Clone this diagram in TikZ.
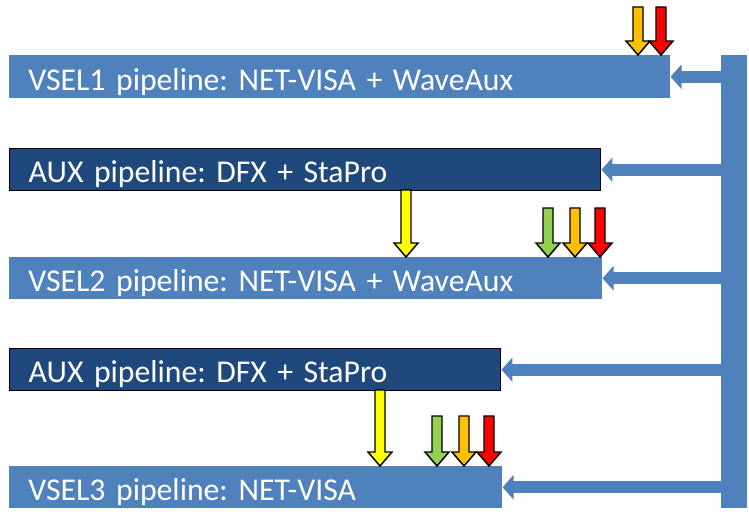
\documentclass[tikz,border=0pt]{standalone}
\usepackage{fontspec}
\setmainfont{Carlito}
\usetikzlibrary{arrows.meta}
\frenchspacing
\definecolor{vblue}{HTML}{4F81BD}
\definecolor{navy}{HTML}{1F497D}
\definecolor{fyellow}{HTML}{FFFF00}
\definecolor{forange}{HTML}{FFC000}
\definecolor{fred}{HTML}{FF0000}
\definecolor{fgreen}{HTML}{92D050}
\tikzset{
  pipebox/.style={anchor=north west, inner xsep=14.25pt, inner ysep=0pt, align=left,
    text=white, font=\fontsize{23.8}{27}\selectfont\frenchspacing, text height=25.5pt, text depth=6pt},
  vselbox/.style={pipebox, fill=vblue},
  auxbox/.style={pipebox, fill=navy, draw=black, line width=1.1pt},
  harrow/.style={draw=vblue, line width=9pt, -{Triangle[width=18pt,length=8.25pt]}},
  pics/darrow/.style 2 args={code={
    \draw[black, line width=1.1pt, fill=#1, line join=miter]
      (0,0) -- (-12,-14) -- (-5,-14) -- (-5,-#2) -- (5,-#2) -- (5,-14) -- (12,-14) -- cycle;
  }}
}
\begin{document}
\begin{tikzpicture}[x=0.75pt,y=-0.75pt]
\useasboundingbox (0,0) rectangle (749,514);
% boxes
\node[vselbox, text width=467.25pt, text height=26.25pt, text depth=6pt] (v1) at (9,55) {VSEL1 pipeline: NET-VISA + WaveAux};
\node[auxbox, text width=414.75pt] (a1) at (9,148) {AUX pipeline: DFX + StaPro};
\node[vselbox, text width=416.25pt] (v2) at (9,257) {VSEL2 pipeline: NET-VISA + WaveAux};
\node[auxbox, text width=339.75pt] (a2) at (9,348) {AUX pipeline: DFX + StaPro};
\node[vselbox, text width=341.25pt] (v3) at (9,466) {VSEL3 pipeline: NET-VISA};
% vertical bar
\node[anchor=north west, fill=vblue, inner sep=0pt, minimum width=19.5pt, minimum height=339.75pt] (bar) at (721,55) {};
% arrows from bar
\foreach \b in {v1,a1,v2,a2,v3}
  \draw[harrow] (bar.west |- \b.east) -- (\b.east);
% feed arrows
\pic at (638,0 |- v1.north) {darrow={forange}{48}};
\pic at (661,0 |- v1.north) {darrow={fred}{48}};
\pic at (406,0 |- v2.north) {darrow={fyellow}{67}};
\pic at (548,0 |- v2.north) {darrow={fgreen}{49}};
\pic at (575,0 |- v2.north) {darrow={forange}{49}};
\pic at (600,0 |- v2.north) {darrow={fred}{49}};
\pic at (380,0 |- v3.north) {darrow={fyellow}{76}};
\pic at (437,0 |- v3.north) {darrow={fgreen}{50}};
\pic at (464,0 |- v3.north) {darrow={forange}{50}};
\pic at (489,0 |- v3.north) {darrow={fred}{50}};
\end{tikzpicture}
\end{document}
